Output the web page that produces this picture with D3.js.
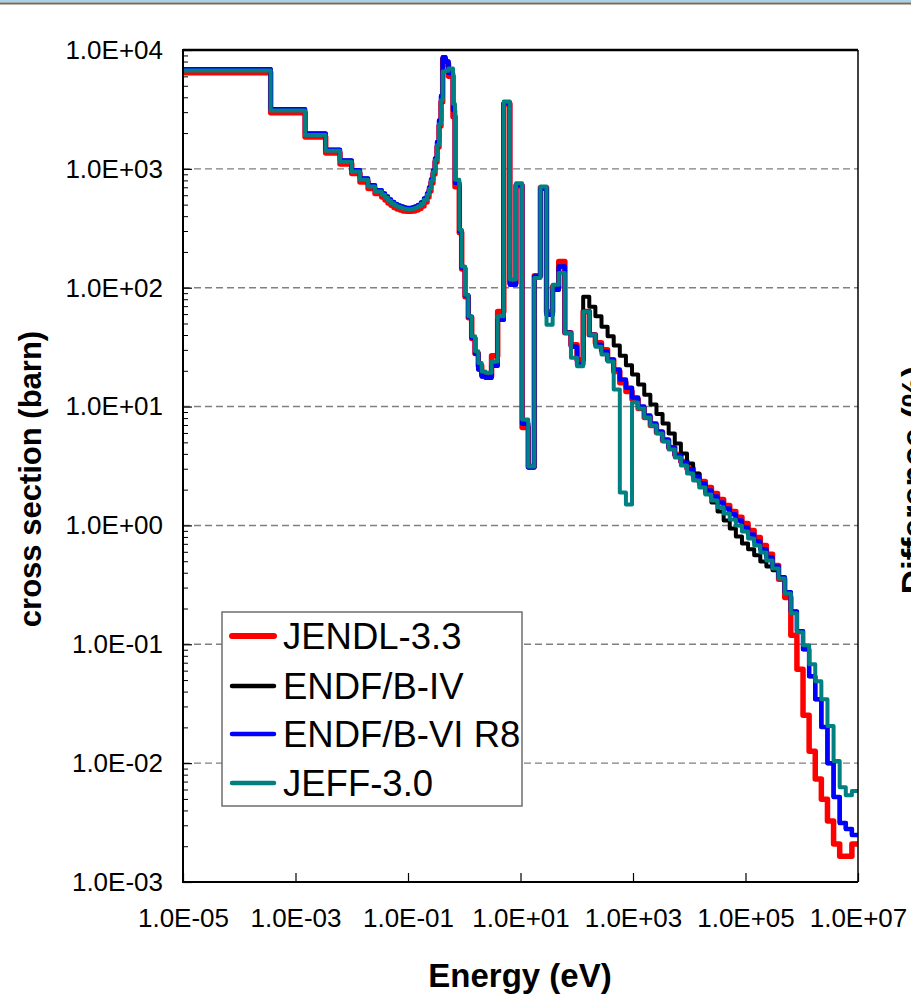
<!DOCTYPE html>
<html>
<head>
<meta charset="utf-8">
<script src="https://cdn.jsdelivr.net/npm/d3@7"></script>
<style>
  html, body { margin: 0; padding: 0; background: #ffffff; }
  svg { display: block; }
</style>
</head>
<body>
<script>
// Multigroup energy boundaries (eV), ascending; group i spans [groupBounds[i], groupBounds[i+1]]
const groupBounds = [
  1e-5, 3.62e-4, 1.48e-3, 3.44e-3, 6.18e-3, 0.0100, 0.0140, 0.0195, 0.0259, 0.0341,
  0.0390, 0.0441, 0.0499, 0.0564, 0.0637, 0.0721, 0.0815, 0.0921, 0.1042, 0.1178,
  0.1332, 0.1506, 0.170, 0.1925, 0.218, 0.236, 0.256, 0.278, 0.302, 0.328,
  0.356, 0.386, 0.414, 0.464, 0.525, 0.631, 0.685, 0.817, 0.901, 1.031,
  1.180, 1.357, 1.553, 1.777, 2.043, 2.382, 3.059, 3.928, 5.043, 6.476,
  8.315, 10.68, 13.71, 17.60, 22.60, 29.02, 37.27, 47.85, 61.44, 78.89,
  101.3, 130.1, 167.0, 214.4, 275.4, 353.6, 454.0, 582.9, 748.5, 961.1,
  1234, 1585, 2035, 2613, 3355, 4307, 5531, 7102, 9119, 1.171e4,
  1.503e4, 1.931e4, 2.479e4, 3.183e4, 4.087e4, 5.248e4, 6.738e4, 8.652e4, 1.111e5, 1.426e5,
  1.832e5, 2.352e5, 3.020e5, 3.877e5, 4.979e5, 6.393e5, 8.208e5, 1.054e6, 1.353e6, 1.738e6,
  2.231e6, 2.865e6, 3.679e6, 4.724e6, 6.065e6, 7.788e6, 1.0e7
];

// Group cross sections (barn), one value per group
const jendl33 = [
  6450, 2970, 1855, 1360, 1100, 912, 776, 682, 619, 581,
  548, 517, 493, 474, 460, 451, 443, 439, 439, 443,
  451, 465, 488, 527, 581, 652, 761, 906, 1143, 1530,
  2290, 3650, 8300, 7600, 6000, 2740, 706, 290, 144, 84.0,
  56.0, 37.3, 27.9, 22.1, 18.6, 18.2, 26.8, 63.2, 3520, 110,
  720, 6.66, 3.13, 126, 692, 62.8, 102, 166, 41.8, 33.2,
  24.8, 63.2, 40.3, 34.5, 30.1, 24.8, 19.7, 15.9, 13.4, 11.5,
  9.62, 8.08, 6.92, 6.05, 5.18, 4.52, 3.95, 3.45, 3.01, 2.68,
  2.34, 2.09, 1.86, 1.65, 1.47, 1.31, 1.17, 1.04, 0.908, 0.793,
  0.679, 0.571, 0.461, 0.352, 0.248, 0.119, 0.0617, 0.0253, 0.0126, 0.00734,
  0.00498, 0.00326, 0.00209, 0.00165, 0.00165, 0.00209
];

const endfb4 = [
  6900, 3170, 1980, 1450, 1175, 973, 828, 728, 661, 620,
  585, 552, 526, 506, 491, 482, 473, 468, 468, 473,
  482, 496, 521, 563, 620, 697, 813, 968, 1220, 1680,
  2550, 4100, 8700, 8000, 6400, 3130, 763, 300, 148, 86.5,
  57.0, 38.1, 27.9, 20.5, 17.9, 17.5, 22.1, 53.8, 3590, 106,
  734, 7.20, 3.07, 124, 679, 59.3, 96.2, 151, 41.8, 31.9,
  22.6, 84.0, 69.2, 57.6, 47.0, 39.1, 32.6, 26.8, 22.3, 18.6,
  15.3, 12.6, 10.4, 8.65, 7.20, 5.93, 4.89, 4.03, 3.32, 2.74,
  2.25, 1.86, 1.56, 1.31, 1.10, 0.944, 0.808, 0.706, 0.629, 0.560,
  0.498, 0.452, 0.419, 0.366, 0.274, 0.189, 0.129, 0.0908, 0.0538, 0.0345,
  0.0201, 0.0100, 0.00518, 0.00313, 0.00279, 0.00248
];

const endfb6r8 = [
  6900, 3170, 1980, 1450, 1175, 973, 828, 728, 661, 620,
  585, 552, 526, 506, 491, 482, 473, 468, 468, 473,
  482, 496, 521, 563, 620, 697, 813, 968, 1220, 1680,
  2550, 4100, 8700, 8000, 6400, 3130, 763, 300, 148, 86.5,
  57.0, 38.1, 27.9, 20.5, 17.9, 17.5, 22.1, 53.8, 3590, 106,
  734, 7.20, 3.07, 124, 679, 59.3, 96.2, 151, 41.8, 31.9,
  22.6, 63.2, 40.3, 33.2, 29.0, 24.8, 20.5, 16.9, 14.4, 11.9,
  10.0, 8.40, 7.20, 6.17, 5.28, 4.52, 3.88, 3.38, 2.96, 2.58,
  2.25, 1.97, 1.75, 1.56, 1.39, 1.24, 1.10, 0.962, 0.840, 0.734,
  0.629, 0.538, 0.452, 0.366, 0.274, 0.189, 0.129, 0.0908, 0.0538, 0.0345,
  0.0201, 0.0100, 0.00518, 0.00313, 0.00279, 0.00248
];

const jeff30 = [
  6730, 3090, 1930, 1420, 1145, 949, 808, 710, 645, 605,
  571, 538, 513, 494, 479, 470, 461, 457, 457, 461,
  470, 484, 508, 549, 605, 679, 793, 944, 1190, 1590,
  2390, 3800, 6600, 6700, 7000, 3520, 808, 307, 151, 87.3,
  57.4, 39.0, 29.2, 23.3, 19.7, 19.3, 23.9, 57.4, 3680, 117,
  758, 7.78, 3.13, 121, 710, 48.9, 106, 133, 41.6, 25.7,
  21.8, 63.2, 40.3, 31.9, 27.4, 23.9, 13.9, 1.89, 1.50, 10.8,
  9.62, 8.08, 6.92, 5.93, 5.08, 4.35, 3.73, 3.19, 2.74, 2.39,
  2.09, 1.82, 1.62, 1.42, 1.26, 1.12, 1.00, 0.890, 0.778, 0.679,
  0.593, 0.508, 0.435, 0.358, 0.268, 0.182, 0.126, 0.0981, 0.0679, 0.0489,
  0.0345, 0.0205, 0.0104, 0.00628, 0.00538, 0.00582
];

const seriesNames = ["JENDL-3.3", "ENDF/B-IV", "ENDF/B-VI R8", "JEFF-3.0"];
const seriesColors = ["#ff0000", "#000000", "#0000ff", "#008080"];
const seriesWidths = [5.5, 4, 4.5, 4];
const seriesValues = [jendl33, endfb4, endfb6r8, jeff30];

const xTickValues = [1e-5, 1e-3, 1e-1, 1e1, 1e3, 1e5, 1e7];
const yTickValues = [1e-3, 1e-2, 1e-1, 1e0, 1e1, 1e2, 1e3, 1e4];
const gridValues = [1e-2, 1e-1, 1e0, 1e1, 1e2, 1e3];

const W = 911, H = 998;
const plot = { left: 183, right: 858, top: 50, bottom: 882 };
const FONT = "'Liberation Sans', Arial, Helvetica, sans-serif";

const svg = d3.select("body").append("svg")
  .attr("width", W).attr("height", H)
  .attr("viewBox", `0 0 ${W} ${H}`);

// window frame strip along the top edge
svg.append("rect").attr("x", 0).attr("y", 0).attr("width", W).attr("height", 2.5).attr("fill", "#a9d2ea");
svg.append("rect").attr("x", 0).attr("y", 2.5).attr("width", W).attr("height", 2).attr("fill", "#776b58");

const x = d3.scaleLog().domain([1e-5, 1e7]).range([plot.left, plot.right]);
const y = d3.scaleLog().domain([1e-3, 1e4]).range([plot.bottom, plot.top]);

const fmtE = v => {
  const e = Math.round(Math.log10(v));
  return "1.0E" + (e < 0 ? "-" : "+") + String(Math.abs(e)).padStart(2, "0");
};

// dashed horizontal gridlines
svg.append("g").selectAll("line").data(gridValues).join("line")
  .attr("x1", plot.left).attr("x2", plot.right)
  .attr("y1", d => y(d)).attr("y2", d => y(d))
  .attr("stroke", "#808080").attr("stroke-width", 1.4)
  .attr("stroke-dasharray", "7,4");

// minor ticks (inside the frame)
const isDecade = v => Math.abs(Math.log10(v) - Math.round(Math.log10(v))) < 1e-9;
const xMinor = x.ticks().filter(v => !isDecade(v));
const yMinor = y.ticks().filter(v => !isDecade(v));

svg.append("g").attr("transform", `translate(0,${plot.bottom})`)
  .call(d3.axisBottom(x).tickValues(xMinor).tickSize(-5).tickFormat(""))
  .call(g => g.select(".domain").remove())
  .call(g => g.selectAll("line").attr("stroke", "#000").attr("stroke-width", 1));

svg.append("g").attr("transform", `translate(${plot.left},0)`)
  .call(d3.axisLeft(y).tickValues(yMinor).tickSize(-5).tickFormat(""))
  .call(g => g.select(".domain").remove())
  .call(g => g.selectAll("line").attr("stroke", "#000").attr("stroke-width", 1));

// major ticks and labels
const xAxis = svg.append("g").attr("transform", `translate(0,${plot.bottom})`)
  .call(d3.axisBottom(x).tickValues(xTickValues).tickFormat(fmtE).tickSizeInner(-9).tickSizeOuter(0).tickPadding(27))
  .call(g => g.select(".domain").remove());
xAxis.selectAll("line").attr("stroke", "#000").attr("stroke-width", 1.2);
xAxis.selectAll("text").attr("font-family", FONT).attr("font-size", 26).attr("fill", "#000");

const yAxis = svg.append("g").attr("transform", `translate(${plot.left},0)`)
  .call(d3.axisLeft(y).tickValues(yTickValues).tickFormat(fmtE).tickSizeInner(-9).tickSizeOuter(0).tickPadding(20))
  .call(g => g.select(".domain").remove());
yAxis.selectAll("line").attr("stroke", "#000").attr("stroke-width", 1.2);
yAxis.selectAll("text").attr("font-family", FONT).attr("font-size", 26).attr("fill", "#000");

// step curves
svg.append("clipPath").attr("id", "plot-clip").append("rect")
  .attr("x", plot.left).attr("y", plot.top)
  .attr("width", plot.right - plot.left).attr("height", plot.bottom - plot.top);

const stepLine = d3.line()
  .x(d => x(d[0])).y(d => y(d[1]))
  .curve(d3.curveStepAfter);

const toSteps = vals => {
  const pts = vals.map((v, i) => [groupBounds[i], v]);
  pts.push([groupBounds[groupBounds.length - 1], vals[vals.length - 1]]);
  return pts;
};

const curves = svg.append("g").attr("clip-path", "url(#plot-clip)");
seriesValues.forEach((vals, i) => {
  curves.append("path")
    .attr("d", stepLine(toSteps(vals)))
    .attr("fill", "none")
    .attr("stroke", seriesColors[i])
    .attr("stroke-width", seriesWidths[i])
    .attr("stroke-linejoin", "round")
    .attr("stroke-linecap", "round");
});

// plot frame
svg.append("line").attr("x1", plot.left).attr("x2", plot.right).attr("y1", plot.top).attr("y2", plot.top)
  .attr("stroke", "#000").attr("stroke-width", 2.5);
svg.append("line").attr("x1", plot.right).attr("x2", plot.right).attr("y1", plot.top).attr("y2", plot.bottom)
  .attr("stroke", "#000").attr("stroke-width", 1.5);
svg.append("line").attr("x1", plot.left).attr("x2", plot.left).attr("y1", plot.top - 1).attr("y2", plot.bottom + 1)
  .attr("stroke", "#000").attr("stroke-width", 2);
svg.append("line").attr("x1", plot.left - 1).attr("x2", plot.right).attr("y1", plot.bottom).attr("y2", plot.bottom)
  .attr("stroke", "#000").attr("stroke-width", 2);

// axis titles
svg.append("text")
  .attr("x", 520).attr("y", 975)
  .attr("text-anchor", "middle").attr("dominant-baseline", "central")
  .attr("font-family", FONT).attr("font-weight", "bold").attr("font-size", 33)
  .text("Energy (eV)");

svg.append("text")
  .attr("transform", "translate(30,479) rotate(-90)")
  .attr("text-anchor", "middle").attr("dominant-baseline", "central")
  .attr("font-family", FONT).attr("font-weight", "bold").attr("font-size", 31)
  .text("cross section (barn)");

// title of the neighbouring panel's axis, running off the right edge
svg.append("text")
  .attr("transform", "translate(925,480) rotate(-90)")
  .attr("text-anchor", "middle")
  .attr("font-family", FONT).attr("font-weight", "bold").attr("font-size", 34)
  .text("Difference (%)");

// legend
const legend = svg.append("g");
legend.append("rect")
  .attr("x", 222).attr("y", 612).attr("width", 300).attr("height", 194)
  .attr("fill", "#fff").attr("stroke", "#6e6e6e").attr("stroke-width", 1.5);

const legendRows = [636, 686, 734, 783];
seriesNames.forEach((name, i) => {
  legend.append("line")
    .attr("x1", 232).attr("x2", 274)
    .attr("y1", legendRows[i]).attr("y2", legendRows[i])
    .attr("stroke", seriesColors[i]).attr("stroke-width", i === 0 ? 6 : 4.5)
    .attr("stroke-linecap", "round");
  legend.append("text")
    .attr("x", 283).attr("y", legendRows[i])
    .attr("dominant-baseline", "central")
    .attr("font-family", FONT).attr("font-size", 36.5).attr("fill", "#000")
    .text(name);
});
</script>
</body>
</html>
